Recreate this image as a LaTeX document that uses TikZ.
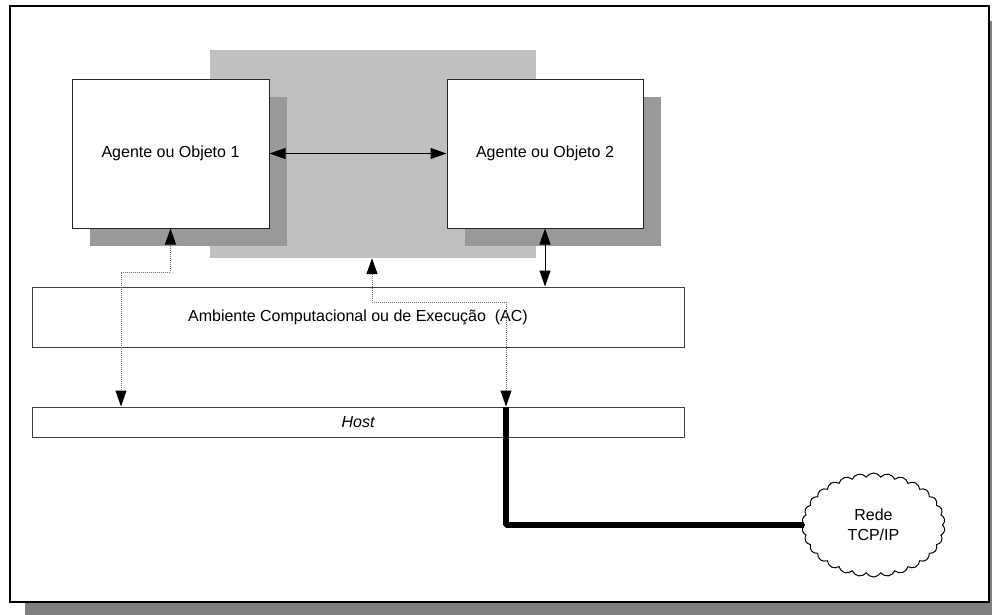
\documentclass[tikz,border=0pt]{standalone}
\usepackage{fontspec}
\setmainfont{Liberation Sans}
\usetikzlibrary{arrows.meta,shapes.symbols,shadows}
\definecolor{envgray}{HTML}{C0C0C0}
\definecolor{boxshadow}{HTML}{999999}
\definecolor{frameshadow}{HTML}{808080}
\definecolor{layerline}{HTML}{404040}
\definecolor{dotline}{HTML}{707070}
\tikzset{
  txt/.style={font=\fontsize{16}{20}\selectfont},
  agentbox/.style={draw=black!85, line width=1pt, fill=white, txt,
    minimum height=149pt, inner sep=0pt,
    drop shadow={shadow xshift=18pt, shadow yshift=-18pt, fill=boxshadow, opacity=1}},
  layerbox/.style={draw=layerline, line width=1pt, fill=white, txt,
    minimum width=652pt, inner sep=0pt},
  ArrowHead/.tip={Triangle[length=16pt, width=11pt, color=black]},
  solidlink/.style={draw=black, line width=1pt},
  dotlink/.style={draw=dotline, line width=1pt, dash pattern=on 1pt off 1pt},
}
\begin{document}
\begin{tikzpicture}[x=1pt, y=-1pt]
\useasboundingbox (0,0) rectangle (992,614);
\begin{scope}
\clip (0,0) rectangle (992,614);
% outer frame with its drop shadow
\fill[frameshadow] (25,21) rectangle (1005,618);
\node[draw=black, line width=2pt, fill=white, minimum width=979pt, minimum height=596pt,
  inner sep=0pt] (frame) at (499.5,304) {};
\end{scope}

% execution area shared by the agents
\node[fill=envgray, minimum width=326pt, minimum height=208pt, inner sep=0pt] (env) at (373,154) {};

% agents / objects
\node[agentbox, minimum width=197pt] (ag1) at (170.5,153.5) {Agente ou Objeto 1};
\node[agentbox, minimum width=196pt] (ag2) at (545,153.5) {Agente ou Objeto 2};

% layers
\node[layerbox, minimum height=60pt] (ac) at (358,317) {Ambiente Computacional ou de Execução\ \ (AC)};
\node[layerbox, minimum height=30pt] (host) at (358,422) {\itshape Host};

% network cloud
\node[cloud, draw=black, line width=1pt, fill=white, cloud puffs=30, cloud puff arc=120,
  aspect=1.4, minimum width=143pt, minimum height=104pt, inner sep=0pt,
  align=center, txt] (net) at (873.5,525) {Rede\\TCP/IP};

% routing points
\coordinate (d1) at (121,272);
\coordinate (d2) at (372,302);
\coordinate (d3) at (506,302);

% host to network link
\draw[line width=6pt, line join=bevel] (d3 |- host.north) |- (net.west);

% solid connectors
\draw[solidlink, ArrowHead-ArrowHead] (ag1.east) -- (ag2.west);
\draw[solidlink, ArrowHead-ArrowHead] (ag2.south) -- (ag2.south |- ac.north);

% dotted connectors
\draw[dotlink, ArrowHead-ArrowHead] (ag1.south) |- (d1) -- (d1 |- host.north);
\draw[dotlink, ArrowHead-ArrowHead] (d2 |- env.south) -- (d2) -- (d3) -- (d3 |- host.north);
\end{tikzpicture}
\end{document}
